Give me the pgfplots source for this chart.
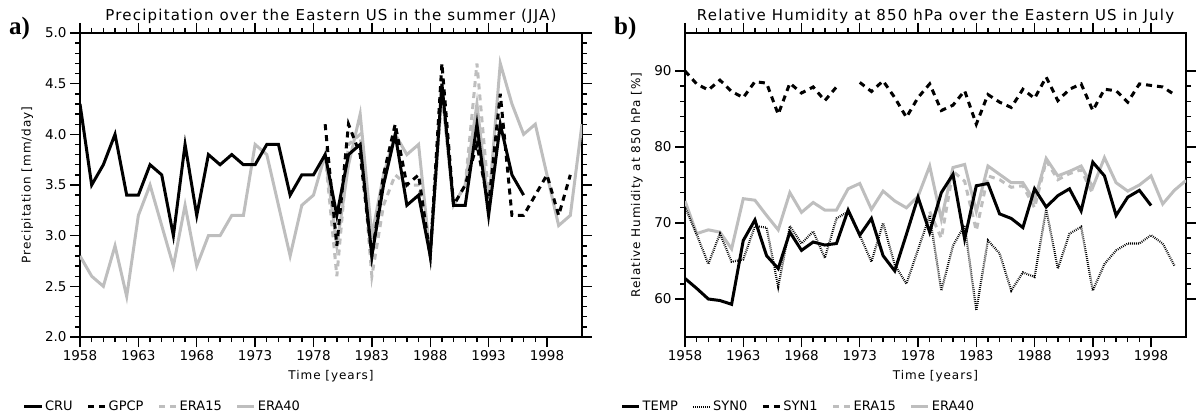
\documentclass[border=0pt]{standalone}
\usepackage{fontspec}
\setmainfont{DejaVu Sans}
\newfontfamily\idl[LetterSpace=8]{DejaVu Sans}
\newfontfamily\pan{Liberation Serif}
\usepackage{pgfplots}
\pgfplotsset{compat=1.18}
\definecolor{eragray}{RGB}{190,190,190}
\pgfplotsset{
  cru/.style={black, line width=3pt},
  gpcp/.style={black, line width=3pt, dash pattern=on 6pt off 5pt},
  era15/.style={eragray, line width=3pt, dash pattern=on 6pt off 5pt},
  era40/.style={eragray, line width=3pt},
  syn0/.style={black, line width=2.2pt, dash pattern=on 0.8pt off 1.2pt},
  idlaxis/.style={
    scale only axis, width=502pt, height=304pt,
    anchor=south west,
    xmin=1958, xmax=2001,
    xtick={1958,1963,...,1998}, minor x tick num=4,
    tick align=outside, major tick length=10pt, minor tick length=5pt,
    axis line style={line width=1.6pt},
    every tick/.style={line width=1.4pt, black},
    tick label style={font=\fontsize{13.5}{15}\selectfont},
    /pgf/number format/assume math mode=true,
    xticklabel style={/pgf/number format/1000 sep={}},
    label style={font=\idl\fontsize{12}{14}\selectfont},
    title style={font=\idl\fontsize{15}{17}\selectfont, at={(axis description cs:0.5,1)}, anchor=base, yshift=6pt},
    xlabel style={at={(axis description cs:0.5,-0.128)}, anchor=center},
    legend style={font=\fontsize{13}{15}\selectfont, draw=none, fill=none, at={(axis description cs:-0.12,-0.23)}, anchor=west, legend columns=4, /tikz/every even column/.append style={column sep=12pt}},
    unbounded coords=jump,
  },
}
\begin{document}
\begin{tikzpicture}
\path[use as bounding box] (0,0) rectangle (1196pt,415pt);
\node[font=\pan\bfseries\fontsize{25}{27}\selectfont, anchor=base west, inner sep=0pt] at (9pt,380pt) {a)};
\node[font=\pan\bfseries\fontsize{25}{27}\selectfont, anchor=base west, inner sep=0pt] at (614pt,380pt) {b)};
\begin{axis}[idlaxis, at={(80pt,78pt)},
  ymin=2, ymax=5, ytick={2.0,2.5,...,5.0}, minor y tick num=4,
  yticklabel style={/pgf/number format/.cd, fixed, fixed zerofill, precision=1},
  title={Precipitation over the Eastern US in the summer (JJA)},
  xlabel={Time [years]}, ylabel={Precipitation [mm/day]},
  ylabel style={at={(axis description cs:-0.105,0.5)}, anchor=center},
]
\addlegendimage{cru}\addlegendentry{CRU}
\addlegendimage{gpcp}\addlegendentry{GPCP}
\addlegendimage{era15}\addlegendentry{ERA15}
\addlegendimage{era40}\addlegendentry{ERA40}
\addplot[era40, forget plot] table {
1958 2.8
1959 2.6
1960 2.5
1961 2.9
1962 2.4
1963 3.2
1964 3.5
1965 3.1
1966 2.7
1967 3.3
1968 2.7
1969 3.0
1970 3.0
1971 3.2
1972 3.2
1973 3.9
1974 3.8
1975 3.3
1976 2.8
1977 3.3
1978 3.4
1979 3.8
1980 2.9
1981 3.7
1982 4.2
1983 3.0
1984 3.6
1985 4.0
1986 3.8
1987 3.9
1988 2.8
1989 4.5
1990 3.3
1991 3.5
1992 4.3
1993 3.3
1994 4.7
1995 4.3
1996 4.0
1997 4.1
1998 3.6
1999 3.1
2000 3.2
2001 4.1
};
\addplot[era15, forget plot] table {
1979 3.8
1980 2.6
1981 3.9
1982 4.0
1983 2.6
1984 3.3
1985 3.6
1986 3.5
1987 3.5
1988 2.8
1989 4.4
1990 3.3
1991 3.5
1992 4.7
1993 3.4
};
\addplot[gpcp, forget plot] table {
1979 4.1
1980 2.9
1981 4.1
1982 3.8
1983 2.8
1984 3.6
1985 4.1
1986 3.5
1987 3.6
1988 2.8
1989 4.7
1990 3.3
1991 3.5
1992 3.9
1993 3.3
1994 4.4
1995 3.2
1996 3.2
1997 3.4
1998 3.6
1999 3.2
2000 3.6
};
\addplot[cru, forget plot] table {
1958 4.3
1959 3.5
1960 3.7
1961 4.0
1962 3.4
1963 3.4
1964 3.7
1965 3.6
1966 3.0
1967 3.9
1968 3.2
1969 3.8
1970 3.7
1971 3.8
1972 3.7
1973 3.7
1974 3.9
1975 3.9
1976 3.4
1977 3.6
1978 3.6
1979 3.8
1980 3.2
1981 3.8
1982 3.9
1983 2.8
1984 3.5
1985 4.0
1986 3.3
1987 3.4
1988 2.8
1989 4.5
1990 3.3
1991 3.3
1992 4.1
1993 3.2
1994 4.1
1995 3.6
1996 3.4
};
\end{axis}
\begin{axis}[idlaxis, at={(685pt,78pt)}, width=501pt,
  ymin=55, ymax=95, ytick={60,70,80,90}, minor y tick num=4,
  title={Relative Humidity at 850 hPa over the Eastern US in July},
  xlabel={Time [years]}, ylabel={Relative Humidity at 850 hPa [\%]},
  ylabel style={at={(axis description cs:-0.096,0.5)}, anchor=center},
  legend columns=5,
  legend style={at={(axis description cs:-0.135,-0.23)}},
]
\addlegendimage{cru}\addlegendentry{TEMP}
\addlegendimage{syn0}\addlegendentry{SYN0}
\addlegendimage{gpcp}\addlegendentry{SYN1}
\addlegendimage{era15}\addlegendentry{ERA15}
\addlegendimage{era40}\addlegendentry{ERA40}
\addplot[era40, forget plot] table {
1958 72.9
1959 68.6
1960 69.1
1961 68.8
1962 66.6
1963 73.2
1964 73.0
1965 71.0
1966 69.1
1967 74.0
1968 71.4
1969 72.7
1970 71.7
1971 71.7
1972 74.5
1973 75.2
1974 71.8
1975 74.2
1976 72.9
1977 72.0
1978 73.5
1979 77.5
1980 70.5
1981 77.3
1982 77.7
1983 71.5
1984 77.5
1985 76.4
1986 75.3
1987 75.3
1988 72.9
1989 78.5
1990 76.2
1991 76.8
1992 77.5
1993 74.7
1994 78.6
1995 75.3
1996 74.2
1997 75.0
1998 76.2
1999 72.5
2000 74.3
2001 75.6
};
\addplot[era15, forget plot] table {
1979 71.5
1980 68.0
1981 76.8
1982 75.5
1983 69.0
1984 76.2
1985 75.7
1986 74.7
1987 74.9
1988 72.0
1989 78.2
1990 75.7
1991 76.5
1992 77.0
1993 73.8
};
\addplot[syn0, forget plot] table {
1958 72.1
1959 68.5
1960 64.6
1961 68.6
1962 64.9
1963 65.2
1964 69.6
1965 69.4
1966 61.6
1967 69.6
1968 67.3
1969 68.9
1970 65.4
1971 70.6
1972 71.5
1973 68.4
1974 64.9
1975 70.0
1976 64.5
1977 62.0
1978 66.5
1979 71.0
1980 61.1
1981 67.0
1982 69.7
1983 58.5
1984 67.7
1985 66.0
1986 61.1
1987 63.5
1988 62.9
1989 71.8
1990 64.0
1991 68.6
1992 69.5
1993 61.1
1994 64.6
1995 66.4
1996 67.3
1997 67.3
1998 68.4
1999 67.3
2000 64.4
};
\addplot[gpcp, forget plot] table {
1958 90.0
1959 88.3
1960 87.5
1961 88.8
1962 87.3
1963 86.5
1964 88.6
1965 88.4
1966 84.3
1967 88.4
1968 87.1
1969 87.9
1970 86.1
1971 87.9
1972 nan
1973 88.5
1974 87.3
1975 88.7
1976 86.5
1977 83.9
1978 86.5
1979 88.3
1980 84.8
1981 85.5
1982 87.4
1983 83.0
1984 86.9
1985 85.9
1986 85.2
1987 87.6
1988 86.4
1989 89.2
1990 86.1
1991 87.6
1992 88.3
1993 84.8
1994 87.6
1995 87.4
1996 85.9
1997 88.3
1998 88.1
1999 87.9
2000 86.9
};
\addplot[cru, forget plot] table {
1958 62.7
1959 61.4
1960 60.0
1961 59.8
1962 59.3
1963 67.7
1964 70.4
1965 65.7
1966 64.0
1967 68.8
1968 66.4
1969 67.5
1970 67.1
1971 67.3
1972 71.7
1973 68.4
1974 70.6
1975 65.7
1976 63.7
1977 68.5
1978 73.4
1979 68.8
1980 74.0
1981 76.4
1982 67.9
1983 74.9
1984 75.2
1985 71.2
1986 70.6
1987 69.4
1988 74.5
1989 72.1
1990 73.6
1991 74.5
1992 71.6
1993 78.0
1994 76.2
1995 71.0
1996 73.4
1997 74.3
1998 72.3
};
\end{axis}
\end{tikzpicture}
\end{document}
